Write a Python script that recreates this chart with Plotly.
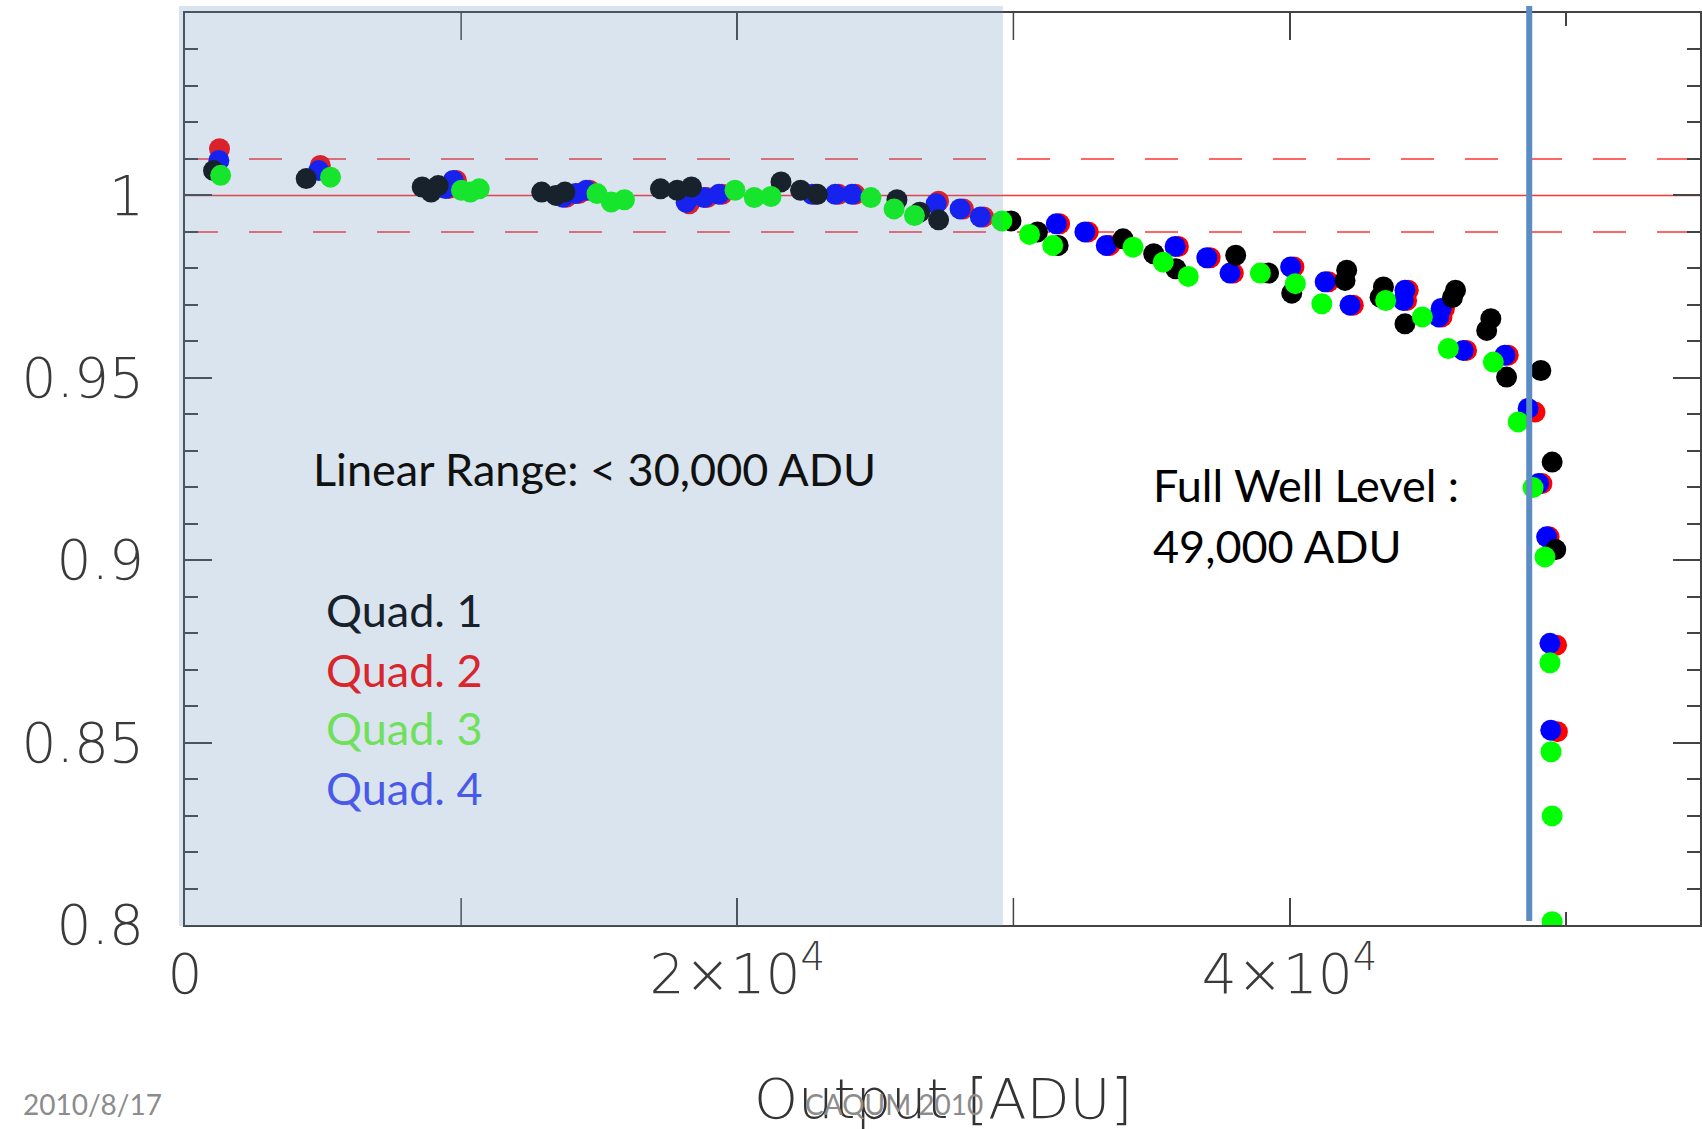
import plotly.graph_objects as go

# ---------------- data ----------------
q1_x = [1034, 4390, 8590, 8911, 9171, 12916, 13433, 13758, 17218, 17826, 18340,
        21584, 22293, 22900, 25783, 26607, 27291, 29913, 30871, 31620, 33971,
        35081, 35880, 38050, 39240, 40080, 42070, 42010, 43400, 43280, 44180,
        46010, 45900, 47290, 47140, 47860, 49100, 49510, 49640]
q1_y = [1.0068, 1.0046, 1.0023, 1.0009, 1.0027, 1.0009, 1.0000, 1.0009, 1.0018, 1.0014, 1.0023,
        1.0037, 1.0014, 1.0003, 0.9988, 0.9954, 0.9933, 0.9930, 0.9900, 0.9863, 0.9881,
        0.9840, 0.9799, 0.9836, 0.9787, 0.9732, 0.9795, 0.9767, 0.9749, 0.9721, 0.9648,
        0.9740, 0.9720, 0.9662, 0.9630, 0.9502, 0.9520, 0.9269, 0.9029]

q4_x = [1226, 4843, 9429, 9714, 13692, 14145, 14532, 18148, 18792, 19335,
        22709, 23548, 24155, 27201, 28068, 28803, 31554, 32589, 33363, 35855,
        37005, 37844, 40040, 41290, 42190, 44180, 44120, 45490, 45400, 46290,
        47800, 48640, 49020, 49310, 49430, 49460]
q4_y = [1.0096, 1.0068, 1.0019, 1.0041, 0.9995, 1.0005, 1.0014, 0.9981, 0.9994, 1.0003,
        1.0003, 1.0003, 1.0003, 0.9977, 0.9963, 0.9941, 0.9922, 0.9900, 0.9863, 0.9860,
        0.9829, 0.9787, 0.9804, 0.9763, 0.9699, 0.9740, 0.9712, 0.9690, 0.9667, 0.9575,
        0.9562, 0.9416, 0.9210, 0.9064, 0.8772, 0.8534]

q2_x = [1250, 4900, 9550, 9830, 13810, 14265, 14650, 18260, 18910, 19455,
        22830, 23670, 24275, 27290, 28190, 28925, 31675, 32710, 33485, 35975,
        37125, 37965, 40160, 41410, 42310, 44300, 44240, 45610, 45520, 46410,
        47920, 48890, 49140, 49400, 49670, 49700]
q2_y = [1.0128, 1.0082, 1.0019, 1.0041, 0.9995, 1.0005, 1.0014, 0.9977, 0.9994, 1.0003,
        1.0003, 1.0003, 1.0003, 0.9984, 0.9963, 0.9941, 0.9922, 0.9900, 0.9863, 0.9860,
        0.9829, 0.9787, 0.9804, 0.9763, 0.9699, 0.9740, 0.9712, 0.9690, 0.9667, 0.9575,
        0.9562, 0.9406, 0.9210, 0.9064, 0.8767, 0.8530]

q3_x = [1291, 5270, 10011, 10333, 10655, 14919, 15436, 15913, 19917, 20615, 21222,
        24839, 25678, 26416, 29580, 30585, 31424, 34333, 35428, 36332, 38944,
        40210, 41170, 43480, 44810, 45750, 47380, 48280, 48820, 49250, 49430,
        49470, 49510, 49510]
q3_y = [1.0055, 1.0050, 1.0014, 1.0009, 1.0018, 1.0005, 0.9982, 0.9988, 1.0014, 0.9994, 0.9997,
        0.9994, 0.9963, 0.9945, 0.9930, 0.9893, 0.9863, 0.9858, 0.9817, 0.9778, 0.9787,
        0.9758, 0.9703, 0.9712, 0.9667, 0.9580, 0.9543, 0.9379, 0.9199, 0.9009, 0.8719,
        0.8475, 0.8299, 0.8009]

x_tickvals = [0, 20000, 40000]
x_ticktext = ["0", "2×10<sup>4</sup>", "4×10<sup>4</sup>"]
x_unlabeled_ticks = [10000, 30000]
x_minor_ticks = [50000]
y_tickvals = [0.8, 0.85, 0.9, 0.95, 1.0]
y_ticktext = ["0.8", "0.85", "0.9", "0.95", "1"]

linear_limit = 29620
full_well = 48680

# ---------------- layout geometry ----------------
W, H = 1702, 1129
L, R, T, B = 185, 1702, 13, 925


def px(xpx):
    return (xpx - L) / (R - L)


def py(ypx):
    return (B - ypx) / (B - T)


fig = go.Figure()
series = [
    ("Quad. 2", q2_x, q2_y, "#ff0000"),
    ("Quad. 4", q4_x, q4_y, "#0000ff"),
    ("Quad. 1", q1_x, q1_y, "#000000"),
    ("Quad. 3", q3_x, q3_y, "#00ff00"),
]
for name, xs, ys, col in series:
    fig.add_trace(go.Scatter(x=xs, y=ys, mode="markers", name=name, showlegend=False,
                             marker=dict(size=21, color=col, line=dict(width=0))))

tickfont = dict(family="DejaVu Sans", size=55, color="#3a3a3a", weight=200)
axcol = "#444444"

fig.update_xaxes(range=[0, 20000 * (R - L) / 553], showgrid=False, zeroline=False,
                 showline=True, linecolor=axcol, linewidth=2, mirror="allticks",
                 ticks="inside", ticklen=27, tickwidth=1.5, tickcolor=axcol,
                 tickmode="array", tickvals=x_tickvals, ticktext=x_ticktext,
                 tickfont=tickfont, ticklabelstandoff=0,
                 minor=dict(tickmode="array", tickvals=x_minor_ticks, ticks="inside",
                            ticklen=13, tickcolor=axcol, tickwidth=1.5))
fig.update_yaxes(range=[0.8, 1.05], showgrid=False, zeroline=False,
                 showline=True, linecolor=axcol, linewidth=2, mirror="allticks",
                 ticks="inside", ticklen=27, tickwidth=1.5, tickcolor=axcol,
                 tickmode="array", tickvals=y_tickvals, ticktext=y_ticktext,
                 tickfont=tickfont, ticklabelstandoff=28,
                 minor=dict(dtick=0.01, ticks="inside", ticklen=13,
                            tickcolor=axcol, tickwidth=1.5))

shapes = []
# unlabeled long x ticks (bottom and top)
for xv in x_unlabeled_ticks:
    for y0p, y1p in ((0, py(B - 27)), (1, py(T + 27))):
        shapes.append(dict(type="line", xref="x", yref="paper", x0=xv, x1=xv,
                           y0=y0p, y1=y1p, line=dict(color=axcol, width=1.5),
                           layer="below"))
# reference lines at 1.00 and +-1%
shapes.append(dict(type="line", xref="paper", yref="y", x0=0, x1=1, y0=1.0, y1=1.0,
                   line=dict(color="rgba(255,0,0,0.8)", width=1.5), layer="below"))
for yv in (1.01, 0.99):
    shapes.append(dict(type="line", xref="paper", yref="y", x0=0, x1=1, y0=yv, y1=yv,
                       line=dict(color="rgba(255,0,0,0.8)", width=1.5, dash="33px,31px"),
                       layer="below"))
# linear range shading
shapes.append(dict(type="rect", xref="paper", yref="paper", x0=px(179), x1=px(1004),
                   y0=py(926), y1=py(6), fillcolor="rgba(96,142,183,0.24)",
                   line=dict(width=0), layer="above"))
# full well line
shapes.append(dict(type="line", xref="x", yref="paper", x0=full_well, x1=full_well,
                   y0=py(921), y1=py(6), line=dict(color="#5b8cc4", width=6), layer="above"))

txtfont = "Lato"
ann = []


def add_text(text, xpx, ypx, size, color, anchor="left", family=txtfont, weight=400):
    ann.append(dict(text=text, xref="paper", yref="paper", x=px(xpx), y=py(ypx),
                    xanchor=anchor, yanchor="middle", showarrow=False,
                    font=dict(family=family, size=size, color=color, weight=weight)))


add_text("Linear Range: &lt; 30,000 ADU", 311, 469, 45, "#111111")
add_text("Full Well Level :", 1152, 485, 45, "#000000")
add_text("49,000 ADU", 1152, 546, 45, "#000000")
add_text("Quad. 1", 324, 610, 45, "#17212b")
add_text("Quad. 2", 324, 670, 45, "#d9262c")
add_text("Quad. 3", 324, 728, 45, "#6ee05a")
add_text("Quad. 4", 324, 788, 45, "#4a5ae8")
add_text("Output [ADU]", 944, 1098, 56, "#333333", anchor="center",
         family="DejaVu Sans", weight=200)
add_text("2010/8/17", 21, 1104, 28, "#8c8c8c")
add_text("CAQUM 2010", 895, 1104, 28, "#8c8c8c", anchor="center")

fig.update_layout(width=W, height=H, margin=dict(l=L, r=W - R, t=T, b=H - B),
                  paper_bgcolor="white", plot_bgcolor="white", showlegend=False,
                  shapes=shapes, annotations=ann)

fig.write_html("out.html")
